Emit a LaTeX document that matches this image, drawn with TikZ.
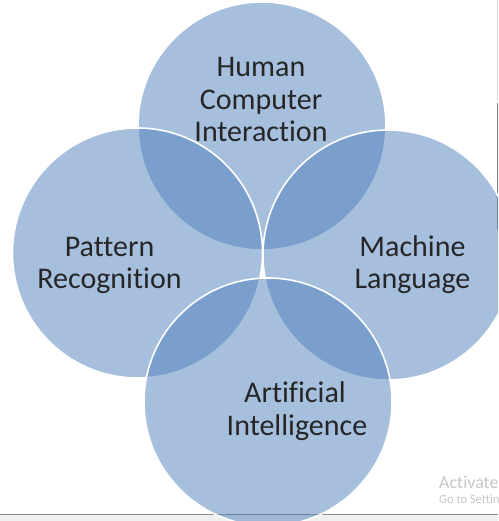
\documentclass[tikz,border=0pt]{standalone}
\usepackage{fontspec}
\setmainfont{Carlito}[Ligatures={NoCommon,NoContextual}]
\begin{document}
\begin{tikzpicture}[x=1pt,y=-1pt,
  venn/.style={fill=vennblue,fill opacity=0.5,draw=white,draw opacity=1,line width=1.6pt},
  lbl/.style={text=black!85,font=\fontsize{30}{32.5}\selectfont,inner sep=0pt,anchor=base},
  wm/.style={text=black!22,inner sep=0pt,anchor=base west}]
\definecolor{vennblue}{HTML}{4F81BD}
\useasboundingbox (0,0) rectangle (498,521);
\begin{scope}
\clip (0,0) rectangle (498,521);
\fill[white] (0,0) rectangle (498,521);
\fill[black!6] (0,514) rectangle (498,521);
\draw[black!45,line width=0.8pt] (0,514) -- (498,514);
\draw[black!15,line width=0.8pt] (497.5,0) -- (497.5,100);
\draw[black!50,line width=0.8pt] (497.5,103) -- (497.5,230);
\path[venn] (262,126) circle[radius=124] coordinate (ctop);
\path[venn] (137.5,253) circle[radius=125] coordinate (cleft);
\path[venn] (388,255) circle[radius=125] coordinate (cright);
\path[venn] (268,402) circle[radius=124] coordinate (cbot);
\node[lbl] (hci1) at (261,77) {Human};
\node[lbl] (hci2) at (261,110) {Computer};
\node[lbl] (hci3) at (261,142) {Interaction};
\node[lbl] (pr1) at (109.5,256) {Pattern};
\node[lbl] (pr2) at (109.5,288) {Recognition};
\node[lbl] (ml1) at (412.5,256) {Machine};
\node[lbl] (ml2) at (412.5,288) {Language};
\node[lbl] (ai1) at (295,402) {Artificial};
\node[lbl] (ai2) at (297,435) {Intelligence};
\node[wm,font=\fontsize{18}{18}\selectfont] (wm1) at (439,488) {Activate Windows};
\node[wm,font=\fontsize{12.5}{12.5}\selectfont] (wm2) at (439,503) {Go to Settings to activate Windows.};
\end{scope}
\end{tikzpicture}
\end{document}
